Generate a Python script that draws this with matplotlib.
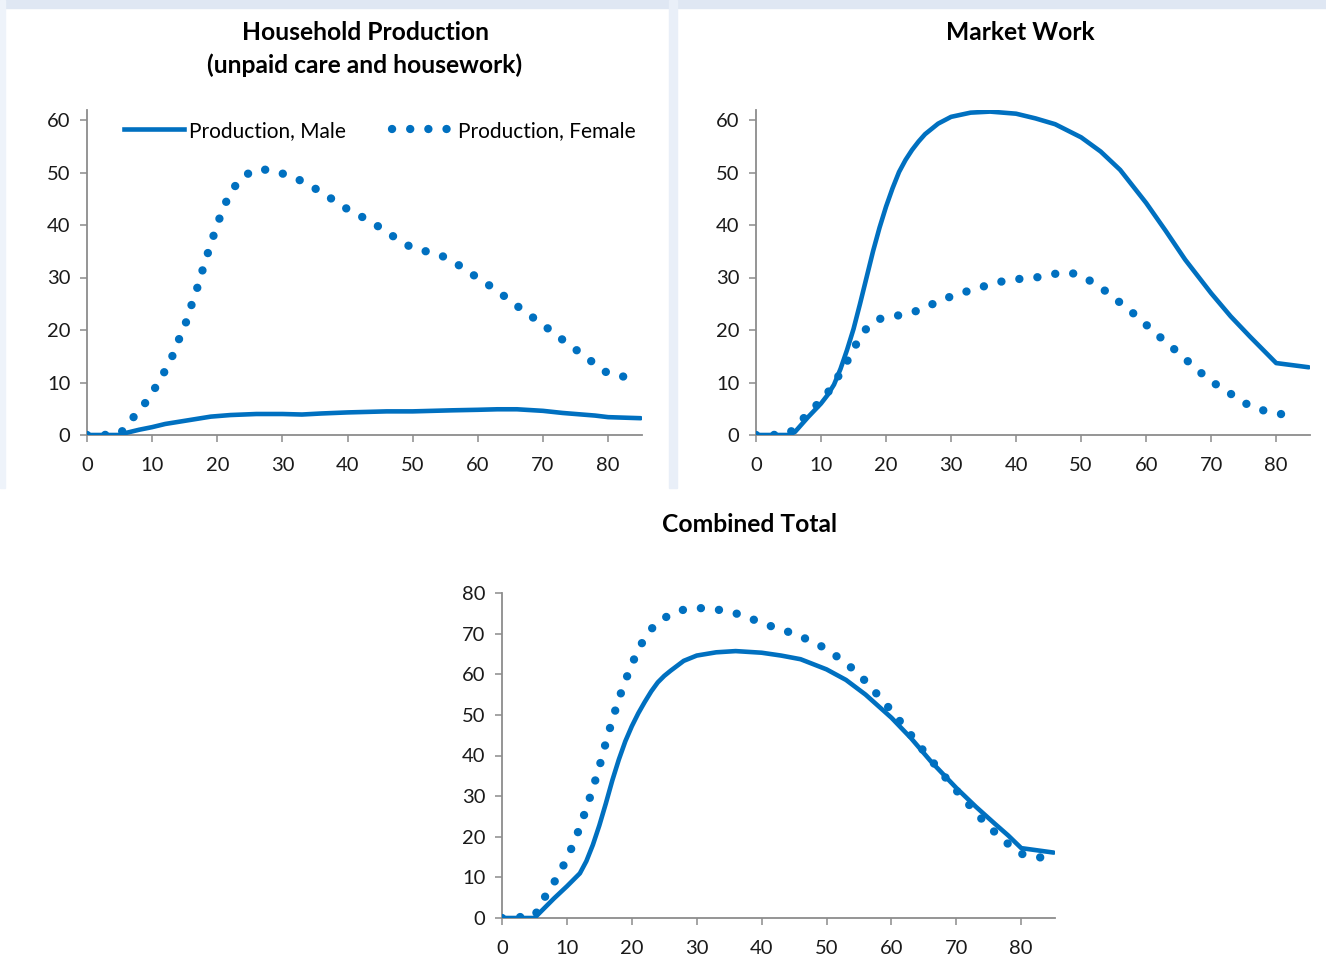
import numpy as np
import matplotlib
matplotlib.use("Agg")
import matplotlib.pyplot as plt
from matplotlib.lines import Line2D
from matplotlib.patches import Rectangle

plt.rcParams['font.family'] = ['Lato', 'DejaVu Sans']

# ages (years)
age_m = [0, 2, 4, 5, 6, 7, 8, 9, 10, 11, 12, 13, 14, 15, 16, 17, 18, 19, 20, 21, 22,
         23, 24, 25, 26, 28, 30, 33, 36, 40, 43, 46, 50, 53, 56, 60, 63, 66, 70, 73,
         76, 78, 80, 85]
age_f = [0, 2.5, 5, 6, 7, 8, 9, 10, 11, 12, 13, 14, 15, 16, 17, 18, 19, 20, 21, 22,
         23, 24, 26, 28, 30, 32, 34, 36, 38, 40, 42, 44, 46, 48, 50, 52, 54, 56, 58,
         60, 62, 64, 66, 68, 70, 72, 74, 76, 78, 80, 82, 83]

# household production (unpaid care and housework)
house_m = [0, 0, 0, 0, 0.4, 0.7, 1.0, 1.25, 1.5, 1.8, 2.1, 2.3, 2.5, 2.7, 2.9, 3.1,
           3.3, 3.5, 3.6, 3.7, 3.8, 3.85, 3.9, 3.95, 4.0, 4.0, 4.0, 3.9, 4.1, 4.3, 4.4,
           4.5, 4.5, 4.6, 4.7, 4.8, 4.9, 4.9, 4.6, 4.2, 3.9, 3.7, 3.4, 3.2]
house_f = [0, 0, 0.2, 1.5, 3.2, 4.6, 6.2, 8.1, 10.0, 12.3, 14.7, 17.9, 20.7, 24.6, 28.3,
           32.5, 36.4, 40.1, 43.5, 46.0, 47.9, 49.3, 50.6, 50.5, 49.8, 49.0, 47.6, 46.3,
           44.6, 43.0, 41.7, 40.3, 38.7, 37.0, 35.6, 35.0, 34.4, 33.2, 31.6, 29.9, 28.3,
           26.5, 24.6, 22.8, 21.0, 19.1, 17.2, 15.4, 13.5, 11.7, 11.2, 11.0]

# market work
market_m = [0, 0, 0, 0, 0.6, 2.0, 3.4, 4.7, 6.0, 7.6, 9.6, 12.6, 16.2, 20.2, 25.0,
            30.0, 35.0, 39.5, 43.5, 47.0, 50.1, 52.4, 54.3, 55.9, 57.3, 59.3, 60.6,
            61.4, 61.6, 61.2, 60.3, 59.2, 56.7, 54.0, 50.5, 44.2, 38.9, 33.4, 27.0,
            22.6, 18.7, 16.2, 13.7, 12.9]
market_f = [0, 0, 0.2, 1.4, 2.8, 4.0, 5.3, 6.6, 8.0, 9.8, 11.9, 14.0, 16.4, 18.6, 20.3,
            21.5, 22.1, 22.4, 22.6, 22.8, 23.0, 23.3, 24.3, 25.4, 26.4, 27.2, 27.9, 28.7,
            29.3, 29.7, 29.8, 30.2, 30.7, 31.0, 30.4, 28.9, 27.2, 25.2, 23.2, 21.0, 18.8,
            16.7, 14.5, 12.3, 10.2, 8.7, 7.0, 5.5, 4.7, 4.1, 3.8, 3.7]

# combined total
total_m = [0, 0, 0, 0, 1.6, 3.2, 4.8, 6.3, 7.8, 9.4, 11.0, 14.0, 18.0, 22.8, 28.2,
           33.9, 39.0, 43.5, 47.2, 50.4, 53.2, 55.8, 58.0, 59.6, 60.9, 63.3, 64.6,
           65.4, 65.7, 65.3, 64.6, 63.7, 61.2, 58.6, 55.0, 49.3, 44.3, 38.7, 32.0,
           27.4, 23.1, 20.3, 17.2, 16.1]
total_f = [0, 0.2, 0.5, 3.2, 6.4, 8.7, 11.4, 14.7, 18.2, 22.4, 27.0, 31.9, 37.2, 43.2,
           48.8, 53.9, 58.4, 62.4, 66.1, 68.9, 71.1, 72.8, 74.8, 75.9, 76.3, 76.2, 75.7,
           75.0, 73.9, 72.7, 71.5, 70.5, 69.3, 67.9, 66.2, 63.9, 61.4, 58.3, 54.7, 51.0,
           47.1, 43.0, 39.1, 35.2, 31.4, 27.8, 24.2, 21.0, 18.2, 15.8, 15.1, 14.9]

blue = '#0070C0'
W, H = 1326, 956
dot_lw = 6.0
dots = (0, (0.01, 2.17))

fig = plt.figure(figsize=(W / 100, H / 100), dpi=100, facecolor='white')

# light blue backdrop strips
fig.patches.append(Rectangle((0, 1 - 8 / H), 1, 8 / H, transform=fig.transFigure,
                             color='#dfe7f3', zorder=0))
fig.patches.append(Rectangle((669 / W, 1 - 488 / H), 8 / W, 488 / H,
                             transform=fig.transFigure, color='#e9eff8', zorder=0))
fig.patches.append(Rectangle((0, 1 - 488 / H), 5 / W, 488 / H,
                             transform=fig.transFigure, color='#eef3fa', zorder=0))


def make_ax(l, r, b, t):
    return fig.add_axes([l / W, 1 - b / H, (r - l) / W, (b - t) / H])


def style(ax, ymax, ystep):
    ax.set_xlim(0, 85.2)
    ax.set_ylim(0, ymax)
    ax.set_xticks(range(0, 81, 10))
    ax.set_yticks(range(0, int(ymax) + 1, ystep))
    ax.patch.set_alpha(0)
    for s in ['top', 'right']:
        ax.spines[s].set_visible(False)
    for s in ['left', 'bottom']:
        ax.spines[s].set_color('#8c8c8c')
        ax.spines[s].set_linewidth(1.3)
    ax.tick_params(axis='x', direction='out', length=5, width=1.1, color='#8c8c8c',
                   labelsize=14.5, pad=11, labelcolor='#1a1a1a')
    ax.tick_params(axis='y', direction='out', length=5, width=1.1, color='#8c8c8c',
                   labelsize=14.5, pad=7, labelcolor='#1a1a1a')


def draw(ax, male, female):
    ax.plot(age_m, male, color=blue, lw=3.3, solid_capstyle='round',
            solid_joinstyle='round', zorder=3)
    ax.plot(age_f, female, color=blue, lw=dot_lw, linestyle=dots,
            dash_capstyle='round', zorder=3)


ax1 = make_ax(87, 642, 435, 435 - 62 * 5.25)
style(ax1, 62, 10)
draw(ax1, house_m, house_f)

ax2 = make_ax(756, 1310, 435, 435 - 62 * 5.25)
style(ax2, 62, 10)
draw(ax2, market_m, market_f)

ax3 = make_ax(502, 1055, 918, 593)
style(ax3, 80, 10)
draw(ax3, total_m, total_f)

handles = [Line2D([], [], color=blue, lw=3.3),
           Line2D([], [], color=blue, lw=dot_lw, linestyle=dots, dash_capstyle='round')]
ax1.legend(handles, ['Production, Male', 'Production, Female'], ncol=2,
           frameon=False, fontsize=15, loc='center left',
           bbox_to_anchor=(0.066, 0.935), handlelength=2.9, handletextpad=0.25,
           columnspacing=2.2, borderaxespad=0, borderpad=0)

title_kw = dict(ha='center', va='center', fontsize=17.7, fontweight='bold')
fig.text(365 / W, 1 - 33 / H, 'Household Production', **title_kw)
fig.text(365 / W, 1 - 65 / H, '(unpaid care and housework)', **title_kw)
fig.text(1020 / W, 1 - 33 / H, 'Market Work', **title_kw)
fig.text(750 / W, 1 - 525 / H, 'Combined Total', **title_kw)

fig.savefig('out.png', dpi=100, facecolor=fig.get_facecolor())
